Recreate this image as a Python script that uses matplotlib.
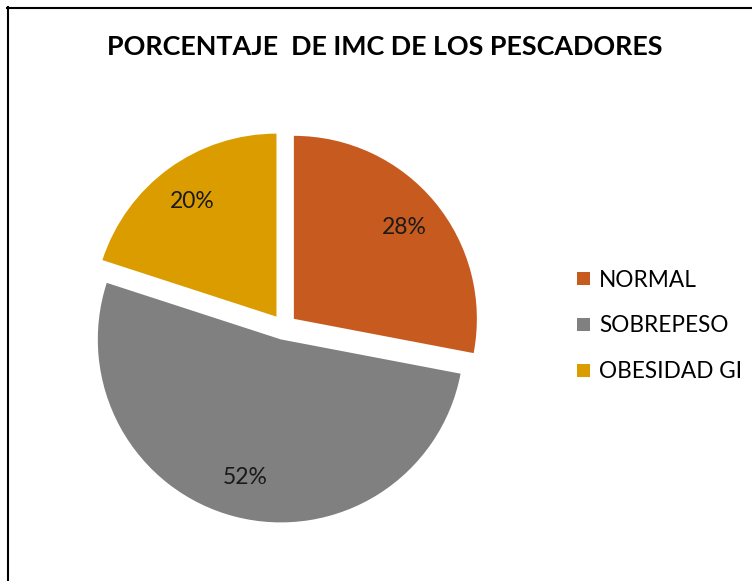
import matplotlib
matplotlib.use("Agg")
import matplotlib.pyplot as plt
from matplotlib.lines import Line2D
from matplotlib.patches import Patch

categories = ["NORMAL", "SOBREPESO", "OBESIDAD GI"]
values = [28, 52, 20]
colors = ["#C75B1F", "#808080", "#DB9C00"]
title = "PORCENTAJE  DE IMC DE LOS PESCADORES"

W, H = 752, 581
fig = plt.figure(figsize=(W / 100, H / 100), dpi=100)
fig.patch.set_facecolor("white")

FONT = "Lato"

# pie axes: center px from top-left, radius px
cx, cy, r = 284, 327, 183
half = 1.2 * r
ax = fig.add_axes([(cx - half) / W, (H - cy - half) / H, 2 * half / W, 2 * half / H])
wedges, texts, autotexts = ax.pie(
    values, colors=colors, startangle=90, counterclock=False,
    explode=[0.07] * 3, autopct="%1.0f%%", pctdistance=0.78,
    wedgeprops=dict(linewidth=0),
    textprops=dict(fontsize=16.5, family=FONT, color="#1a1a1a"),
)
ax.set_xlim(-1.2, 1.2)
ax.set_ylim(-1.2, 1.2)
ax.set_aspect("equal")
ax.axis("off")

fig.text(385 / W, 1 - 47 / H, title, ha="center", va="center",
         fontsize=19.4, fontweight="bold", family=FONT, color="black")

handles = [Patch(facecolor=c, edgecolor="none") for c in colors]
fig.legend(handles, categories, loc="center left",
           bbox_to_anchor=(557 / W, 1 - 326 / H), frameon=False,
           prop=dict(family=FONT, size=16.3), handlelength=0.55, handleheight=0.55,
           handletextpad=0.4, labelspacing=1.1)

# outer frame lines (left and top)
fig.add_artist(Line2D([7.5 / W, 7.5 / W], [0, 1 - 7 / H], color="black", lw=1.5,
                      transform=fig.transFigure))
fig.add_artist(Line2D([7 / W, 1], [1 - 7.5 / H, 1 - 7.5 / H], color="black", lw=1.5,
                      transform=fig.transFigure))

fig.savefig("out.png", dpi=100)
